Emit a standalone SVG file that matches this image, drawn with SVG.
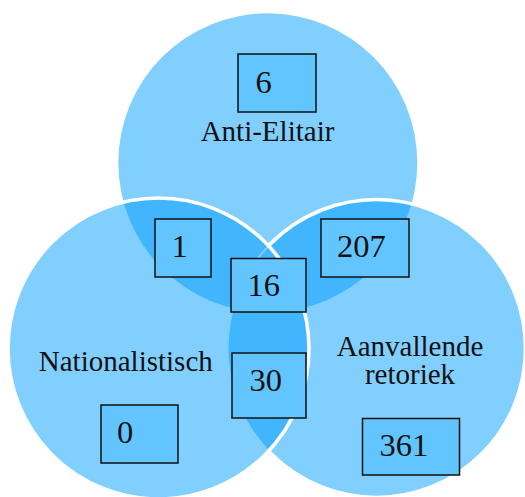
<svg xmlns="http://www.w3.org/2000/svg" width="525" height="497" viewBox="0 0 525 497">
  <style>
    .set { fill: #81CFFF; }
    .dark { fill: #41B6FF; }
    .edge { fill: none; stroke: #FFFFFF; stroke-width: 3.6; }
    .faint { fill: none; stroke: #81CFFF; stroke-width: 2; }
    .box { fill: #63C5FF; stroke: #111111; stroke-width: 1.5; }
    .lbl { font-family: "Liberation Serif", "Times New Roman", serif; font-size: 29px; fill: #111111; text-anchor: middle; }
    .num { font-family: "Liberation Serif", "Times New Roman", serif; font-size: 32.5px; fill: #111111; }
  </style>
  <defs>
    <clipPath id="clipTop"><circle cx="267.8" cy="162.8" r="149.5"/></clipPath>
    <clipPath id="clipLeft"><circle cx="158.5" cy="348.5" r="150.5"/></clipPath>
    <mask id="outsideLeft" maskUnits="userSpaceOnUse" x="0" y="0" width="525" height="497">
      <rect x="0" y="0" width="525" height="497" fill="#FFFFFF"/>
      <circle cx="158.5" cy="348.5" r="150.5" fill="#000000"/>
    </mask>
  </defs>
  <rect x="0" y="0" width="525" height="497" fill="#FFFFFF"/>

  <!-- set circles -->
  <g id="set-anti-elitair">
    <circle class="set" cx="267.8" cy="162.8" r="149.5"/>
  </g>
  <g id="set-aanvallende-retoriek">
    <circle class="set" cx="376.5" cy="348.5" r="149"/>
  </g>
  <g id="set-nationalistisch">
    <circle class="set" cx="158.5" cy="348.5" r="150.5"/>
  </g>

  <!-- overlap regions -->
  <g id="overlaps">
    <circle class="dark" cx="158.5" cy="348.5" r="150.5" clip-path="url(#clipTop)"/>
    <circle class="dark" cx="376.5" cy="348.5" r="149" clip-path="url(#clipTop)"/>
    <circle class="dark" cx="376.5" cy="348.5" r="149" clip-path="url(#clipLeft)"/>
  </g>

  <!-- outlines -->
  <g id="outlines">
    <circle class="faint" cx="376.5" cy="348.5" r="149" clip-path="url(#clipLeft)"/>
    <circle class="edge" cx="376.5" cy="348.5" r="149" mask="url(#outsideLeft)"/>
    <circle class="edge" cx="158.5" cy="348.5" r="150.5"/>
  </g>

  <!-- set labels -->
  <g id="label-anti-elitair">
    <text class="lbl" x="267.5" y="141">Anti-Elitair</text>
  </g>
  <g id="label-nationalistisch">
    <text class="lbl" x="125.8" y="370.5">Nationalistisch</text>
  </g>
  <g id="label-aanvallende-retoriek">
    <text class="lbl" x="410" y="356">Aanvallende</text>
    <text class="lbl" x="410" y="384">retoriek</text>
  </g>

  <!-- region counts -->
  <g id="count-a">
    <rect class="box" x="238" y="54" width="78" height="58"/>
    <text class="num" x="255.5" y="92.5">6</text>
  </g>
  <g id="count-an">
    <rect class="box" x="155" y="219" width="56" height="58"/>
    <text class="num" x="171.5" y="256.5">1</text>
  </g>
  <g id="count-ar">
    <rect class="box" x="321" y="219" width="88" height="58"/>
    <text class="num" x="337" y="256.5">207</text>
  </g>
  <g id="count-anr">
    <rect class="box" x="231" y="258.5" width="75" height="53.5"/>
    <text class="num" x="247.5" y="295.5">16</text>
  </g>
  <g id="count-nr">
    <rect class="box" x="232" y="353" width="74" height="65"/>
    <text class="num" x="249.5" y="390.5">30</text>
  </g>
  <g id="count-n">
    <rect class="box" x="101" y="405" width="77" height="58"/>
    <text class="num" x="117" y="443">0</text>
  </g>
  <g id="count-r">
    <rect class="box" x="362.5" y="418.5" width="97" height="56.5"/>
    <text class="num" x="379.5" y="456">361</text>
  </g>
</svg>
